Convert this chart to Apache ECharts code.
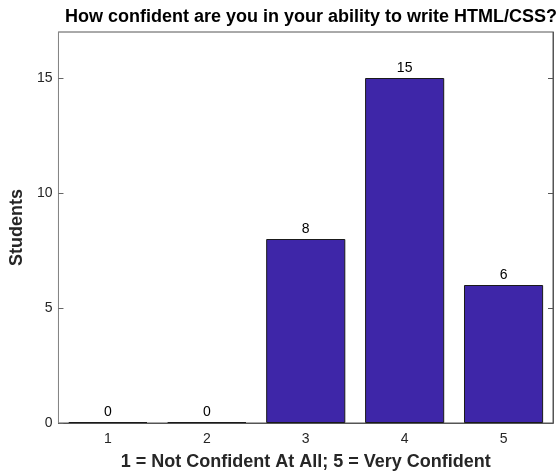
<!DOCTYPE html>
<html>
<head>
<meta charset="utf-8">
<script src="https://cdn.jsdelivr.net/npm/echarts@6/dist/echarts.min.js"></script>
<style>
  html, body { margin: 0; padding: 0; background: #fff; }
  #chart { width: 557px; height: 476px; }
</style>
</head>
<body>
<div id="chart"></div>
<script>
// confidence levels and number of students answering each
const categories = ['1', '2', '3', '4', '5']
const students = [0, 0, 8, 15, 6]
const yTicks = [0, 5, 10, 15]

const chart = echarts.init(document.getElementById('chart'))
const font = 'Liberation Sans, Arial, Helvetica, sans-serif'

const option = {
  animation: false,
  textStyle: { fontFamily: font },
  title: {
    text: 'How confident are you in your ability to write HTML/CSS?',
    left: 306,
    top: 3,
    textAlign: 'center',
    textStyle: { fontSize: 18, fontWeight: 'bold', color: '#000', fontFamily: font }
  },
  grid: {
    left: 58,
    right: 4,
    top: 32,
    bottom: 52,
    show: true,
    borderColor: '#555',
    borderWidth: 1
  },
  xAxis: [
    {
      type: 'category',
      data: categories,
      position: 'bottom',
      name: '1 = Not Confident At All; 5 = Very Confident',
      nameLocation: 'middle',
      nameGap: 30,
      nameTextStyle: { fontSize: 18, fontWeight: 'bold', color: '#262626', fontFamily: font },
      axisLine: { lineStyle: { color: '#333' } },
      axisTick: { inside: true, alignWithLabel: true, length: 5, lineStyle: { color: '#444' } },
      axisLabel: { fontSize: 14, color: '#262626', margin: 9 }
    },
    {
      type: 'category',
      data: categories,
      position: 'top',
      axisLine: { lineStyle: { color: '#555' } },
      axisTick: { inside: true, alignWithLabel: true, length: 5, lineStyle: { color: '#555' } },
      axisLabel: { show: false }
    }
  ],
  yAxis: [
    {
      type: 'value',
      min: 0,
      max: 17,
      interval: 5,
      name: 'Students',
      nameLocation: 'middle',
      nameGap: 29,
      nameTextStyle: { fontSize: 18, fontWeight: 'bold', color: '#262626', fontFamily: font },
      axisLine: { show: true, lineStyle: { color: '#858585' } },
      axisTick: { show: true, inside: true, length: 5, customValues: yTicks, lineStyle: { color: '#666' } },
      axisLabel: { fontSize: 14, color: '#262626', margin: 6, customValues: yTicks },
      splitLine: { show: false }
    },
    {
      type: 'value',
      min: 0,
      max: 17,
      interval: 5,
      position: 'right',
      axisLine: { show: true, lineStyle: { color: '#555' } },
      axisTick: { show: true, inside: true, length: 5, customValues: yTicks, lineStyle: { color: '#555' } },
      axisLabel: { show: false },
      splitLine: { show: false }
    }
  ],
  series: [
    {
      type: 'bar',
      data: students,
      barCategoryGap: '20%',
      barMinHeight: 1,
      itemStyle: { color: '#3E26A8', borderColor: '#1a1a1a', borderWidth: 1 },
      label: {
        show: true,
        position: 'top',
        distance: 3,
        fontSize: 14,
        color: '#000',
        fontFamily: font
      }
    }
  ]
}

chart.setOption(option)
</script>
</body>
</html>
